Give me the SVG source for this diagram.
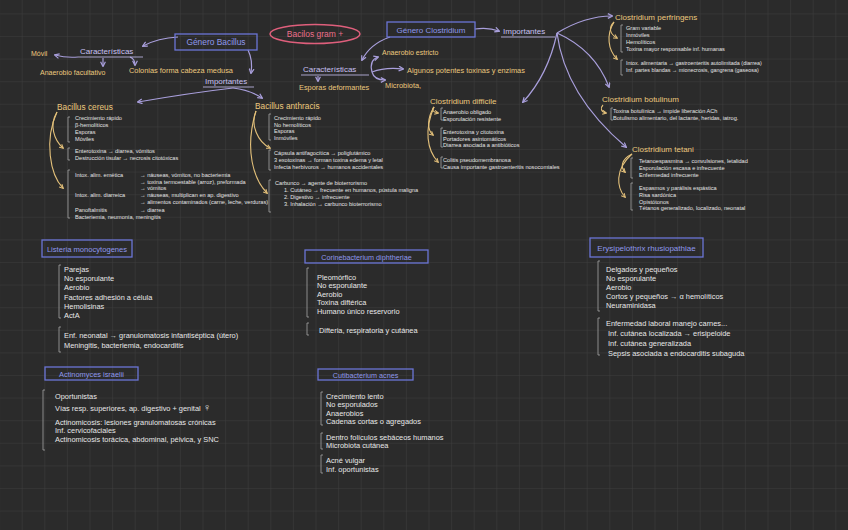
<svg xmlns="http://www.w3.org/2000/svg" width="848" height="530" viewBox="0 0 848 530">
<defs>
<pattern id="grid" x="-0.9" y="13.4" width="22.6" height="22.6" patternUnits="userSpaceOnUse">
<path d="M0 0H22.6M0 0V22.6" stroke="#3e3e3e" stroke-width="1" fill="none"/>
</pattern>
<marker id="ap" viewBox="0 0 10 10" refX="8" refY="5" markerWidth="5" markerHeight="5" orient="auto-start-reverse">
<path d="M1 1L9 5L1 9" fill="none" stroke="#a99fdc" stroke-width="2"/>
</marker>
<marker id="ay" viewBox="0 0 10 10" refX="8" refY="5" markerWidth="4.5" markerHeight="4.5" orient="auto">
<path d="M1 1L9 5L1 9" fill="none" stroke="#e3c07a" stroke-width="2"/>
</marker>
<style>
text{font-family:"Liberation Sans","DejaVu Sans",sans-serif}
.y{fill:#ecc97e;font-size:8px}
.yt{fill:#ecc97e;font-size:8.3px}
.p{fill:#c9c1f2;font-size:8px}
.s{fill:#e4e4e4;font-size:5.6px}
.w{fill:#e8e8e8;font-size:7.4px}
.bx{fill:none;stroke:#6b75d6;stroke-width:1.3}
.bt{fill:#8f98ec;font-size:7.6px;text-anchor:middle}
.br{fill:none;stroke:#a5a5a5;stroke-width:0.8}
.ul{stroke:#c9c1f2;stroke-width:0.8}
.cp{fill:none;stroke:#a99fdc;stroke-width:1.2;marker-end:url(#ap)}
.cy{fill:none;stroke:#e3c07a;stroke-width:1.1;marker-end:url(#ay)}
</style>
</defs>
<rect width="848" height="530" fill="#2b2b2b"/>
<rect width="848" height="530" fill="url(#grid)"/>

<g id="connectors">
<path class="cp" d="M178 37Q158 38 143 46"/>
<path class="cp" d="M248 50Q253 60 251 73"/>
<path class="cp" d="M78 57Q66 58 55 55"/>
<path class="cp" d="M103 58V66"/>
<path class="cp" d="M130 57Q135 59 135 65"/>
<path class="cp" d="M233 88Q190 93 138 102"/>
<path class="cp" d="M233 88Q250 90 262 98"/>
<path class="cp" d="M390 37Q370 44 362 60"/>
<path class="cp" d="M475 29Q488 27 499 31"/>
<path class="cp" d="M372 72Q369 60 378 57"/>
<path class="cp" d="M372 72Q385 67 403 69"/>
<path class="cp" d="M372 72Q374 80 385 80"/>
<path class="cp" d="M318 76V81"/>
<path class="cp" d="M557 33Q585 16 612 16"/>
<path class="cp" d="M557 33Q548 75 523 102"/>
<path class="cp" d="M557 33Q595 50 609 87"/>
<path class="cp" d="M557 33Q565 95 626 147"/>
<path class="cy" d="M57 112C49 125 54 140 63 148"/>
<path class="cy" d="M57 112C44 140 50 175 63 188"/>
<path class="cy" d="M256 111C250 125 258 142 270 148"/>
<path class="cy" d="M256 111C244 150 254 180 267 193"/>
<path class="cy" d="M434 107C431 110 433 112 438 113"/>
<path class="cy" d="M434 107C427 118 427 130 433 135"/>
<path class="cy" d="M434 107C424 130 427 150 438 162"/>
<path class="cy" d="M603 105C600 108 601 112 606 113"/>
<path class="cy" d="M632 154C620 160 621 168 625 172"/>
<path class="cy" d="M632 154C614 170 617 188 625 197"/>
<path class="cy" d="M614 22C608 28 610 34 617 38"/>
<path class="cy" d="M614 22C606 35 608 50 617 59"/>
</g>

<g id="bacilos-gram">
<ellipse cx="315" cy="34" rx="45" ry="9.5" fill="none" stroke="#df5f7c" stroke-width="1.5"/>
<text x="315" y="37" text-anchor="middle" style="fill:#ea6f8a;font-size:8.5px">Bacilos gram +</text>
</g>

<g id="genero-bacillus">
<rect class="bx" x="175" y="34" width="82" height="16"/>
<text class="bt" x="216" y="45" style="font-size:8.4px">Género Bacillus</text>
</g>
<g id="bacillus-caracteristicas">
<text class="p" x="80" y="54">Características</text>
<line class="ul" x1="78" y1="57" x2="143" y2="57"/>
<text class="y" x="31" y="56" style="font-size:7px">Móvil</text>
<text class="y" x="40" y="75" style="font-size:7px">Anaerobio facultativo</text>
<text class="y" x="129" y="73" style="font-size:7.4px">Colonias forma cabeza medusa</text>
</g>
<g id="bacillus-importantes">
<text class="p" x="205" y="84">Importantes</text>
<line class="ul" x1="203" y1="87" x2="254" y2="87"/>
</g>

<g id="genero-clostridium">
<rect class="bx" x="387" y="22" width="88" height="15"/>
<text class="bt" x="431" y="32.5" style="font-size:8px">Género Clostridium</text>
</g>
<g id="clostridium-importantes">
<text class="p" x="503" y="34">Importantes</text>
<line class="ul" x1="501" y1="37" x2="555" y2="37"/>
</g>
<g id="clostridium-caracteristicas">
<text class="p" x="303" y="72">Características</text>
<line class="ul" x1="301" y1="75" x2="369" y2="75"/>
<text class="y" x="382" y="55" style="font-size:7px">Anaerobio estricto</text>
<text class="y" x="407" y="73" style="font-size:7.4px">Algunos potentes toxinas y enzimas</text>
<text class="y" x="385" y="88" style="font-size:7.4px">Microbiota,</text>
<text class="y" x="299" y="90" style="font-size:7.4px">Esporas deformantes</text>
</g>

<g id="bacillus-cereus">
<text class="yt" x="57" y="110">Bacillus cereus</text>
<path class="br" d="M70 117H68V142H70M70 148H68V160H70M70 170H68V218H70"/>
<text class="s" x="75" y="120">Crecimiento rápido</text>
<text class="s" x="75" y="127">β-hemolíticos</text>
<text class="s" x="75" y="134">Esporas</text>
<text class="s" x="75" y="140.5">Móviles</text>
<text class="s" x="75" y="153">Enterotoxina → diarrea, vómitos</text>
<text class="s" x="75" y="160">Destrucción tisular → necrosis citotóxicas</text>
<text class="s" x="75" y="177">Intox. alim. emética</text>
<text class="s" x="140" y="177">→ náuseas, vómitos, no bacteriemia</text>
<text class="s" x="140" y="183.5">→ toxina termoestable (arroz), preformada</text>
<text class="s" x="140" y="190">→ vómitos</text>
<text class="s" x="75" y="197">Intox. alim. diarreica</text>
<text class="s" x="140" y="197">→ náuseas, multiplican en ap. digestivo</text>
<text class="s" x="140" y="203.5">→ alimentos contaminados (carne, leche, verduras)</text>
<text class="s" x="75" y="212">Panoftalmitis</text>
<text class="s" x="140" y="212">→ diarrea</text>
<text class="s" x="75" y="218.5">Bacteriemia, neumonía, meningitis</text>
</g>

<g id="bacillus-anthracis">
<text class="yt" x="255" y="109">Bacillus anthracis</text>
<path class="br" d="M271 114H269V140H271M271 150H269V170H271M271 180H269V212H271"/>
<text class="s" x="274" y="120">Crecimiento rápido</text>
<text class="s" x="274" y="126.5">No hemolíticos</text>
<text class="s" x="274" y="133">Esporas</text>
<text class="s" x="274" y="140">Inmóviles</text>
<text class="s" x="274" y="155">Cápsula antifagocítica → poliglutámico</text>
<text class="s" x="274" y="162">3 exotoxinas → forman toxina edema y letal</text>
<text class="s" x="274" y="169">Infecta herbívoros → humanos accidentales</text>
<text class="s" x="275" y="185">Carbunco → agente de bioterrorismo</text>
<text class="s" x="284" y="192">1. Cutáneo → frecuente en humanos, pústula maligna</text>
<text class="s" x="284" y="199">2. Digestivo → infrecuente</text>
<text class="s" x="284" y="205.5">3. Inhalación → carbunco bioterrorismo</text>
</g>

<g id="clostridium-perfringens">
<text class="yt" x="615" y="20" style="font-size:8px">Clostridium perfringens</text>
<path class="br" d="M623 25H621V52H623M623 60H621V75H623"/>
<text class="s" x="626" y="30">Gram variable</text>
<text class="s" x="626" y="37">Inmóviles</text>
<text class="s" x="626" y="44">Hemolíticos</text>
<text class="s" x="626" y="51">Toxina mayor responsable inf. humanas</text>
<text class="s" x="626" y="64.5" style="font-size:5.4px">Intox. alimentaria → gastroenteritis autolimitada (diarrea)</text>
<text class="s" x="626" y="71.5" style="font-size:5.4px">Inf. partes blandas → mionecrosis, gangrena (gaseosa)</text>
</g>

<g id="clostridium-difficile">
<text class="yt" x="430" y="104" style="font-size:8px">Clostridium difficile</text>
<path class="br" d="M443 108H441V120H443M443 128H441V147H443M443 157H441V168H443"/>
<text class="s" x="443" y="114">Anaerobio obligado</text>
<text class="s" x="443" y="120.5">Esporulación resistente</text>
<text class="s" x="443" y="134">Enterotoxina y citotoxina</text>
<text class="s" x="443" y="140.5">Portadores asintomáticos</text>
<text class="s" x="443" y="147">Diarrea asociada a antibióticos</text>
<text class="s" x="443" y="162">Colitis pseudomembranosa</text>
<text class="s" x="443" y="169">Causa importante gastroenteritis nosocomiales</text>
</g>

<g id="clostridium-botulinum">
<text class="yt" x="602" y="102" style="font-size:8px">Clostridium botulinum</text>
<path class="br" d="M613 108H611V120H613"/>
<text class="s" x="613" y="113">Toxina botulínica → impide liberación ACh</text>
<text class="s" x="613" y="120">Botulismo alimentario, del lactante, heridas, iatrog.</text>
</g>

<g id="clostridium-tetani">
<text class="yt" x="632" y="152" style="font-size:8px">Clostridium tetani</text>
<path class="br" d="M633 158H631V178H633M633 183H631V210H633"/>
<text class="s" x="639" y="163">Tetanoespasmina → convulsiones, letalidad</text>
<text class="s" x="639" y="170">Esporulación escasa e infrecuente</text>
<text class="s" x="639" y="177">Enfermedad infrecuente</text>
<text class="s" x="639" y="190">Espasmos y parálisis espástica</text>
<text class="s" x="639" y="197">Risa sardónica</text>
<text class="s" x="639" y="203.5">Opistótonos</text>
<text class="s" x="639" y="210">Tétanos generalizado, localizado, neonatal</text>
</g>

<g id="listeria">
<rect class="bx" x="42" y="240" width="90" height="17"/>
<text class="bt" x="87" y="251.5">Listeria monocytogenes</text>
<path class="br" d="M61 265H59V318H61M61 327H59V352H61"/>
<text class="w" x="64" y="272">Parejas</text>
<text class="w" x="64" y="281">No esporulante</text>
<text class="w" x="64" y="290">Aerobio</text>
<text class="w" x="64" y="300">Factores adhesión a célula</text>
<text class="w" x="64" y="309">Hemolisinas</text>
<text class="w" x="64" y="318">ActA</text>
<text class="w" x="64" y="338">Enf. neonatal → granulomatosis infantiséptica (útero)</text>
<text class="w" x="64" y="348">Meningitis, bacteriemia, endocarditis</text>
</g>

<g id="corynebacterium">
<rect class="bx" x="305" y="250" width="123" height="13"/>
<text class="bt" x="366.5" y="259.5" style="font-size:7.2px">Corinebacterium diphtheriae</text>
<path class="br" d="M309 268H307V317H309M309 323H307V335H309"/>
<text class="w" x="317" y="279.5">Pleomórfico</text>
<text class="w" x="317" y="288">No esporulante</text>
<text class="w" x="317" y="296.5">Aerobio</text>
<text class="w" x="317" y="305">Toxina diftérica</text>
<text class="w" x="317" y="313.5">Humano único reservorio</text>
<text class="w" x="319" y="332.5">Difteria, respiratoria y cutánea</text>
</g>

<g id="erysipelothrix">
<rect class="bx" x="590" y="238" width="113" height="19"/>
<text class="bt" x="646.5" y="250.5" style="font-size:8px">Erysipelothrix rhusiopathiae</text>
<path class="br" d="M600 261H598V311H600M600 318H598V355H600"/>
<text class="w" x="606" y="271.5">Delgados y pequeños</text>
<text class="w" x="606" y="280.5">No esporulante</text>
<text class="w" x="606" y="289.5">Aerobio</text>
<text class="w" x="606" y="298.5">Cortos y pequeños → α hemolíticos</text>
<text class="w" x="606" y="308">Neuraminidasa</text>
<text class="w" x="606" y="325.5">Enfermedad laboral manejo carnes...</text>
<text class="w" x="608" y="335.5">Inf. cutánea localizada → erisipeloide</text>
<text class="w" x="608" y="345.5">Inf. cutánea generalizada</text>
<text class="w" x="608" y="355.5">Sepsis asociada a endocarditis subaguda</text>
</g>

<g id="actinomyces">
<rect class="bx" x="45" y="367" width="93" height="13"/>
<text class="bt" x="91.5" y="376.5" style="font-size:7.4px">Actinomyces israelii</text>
<path class="br" d="M45 390H43V450H45"/>
<text class="w" x="55" y="398.5">Oportunistas</text>
<text class="w" x="55" y="410.5">Vías resp. superiores, ap. digestivo + genital <tspan style="font-size:11px">♀</tspan></text>
<text class="w" x="55" y="424.5">Actinomicosis: lesiones granulomatosas crónicas</text>
<text class="w" x="55" y="432.5">Inf. cervicofaciales</text>
<text class="w" x="55" y="441.5">Actinomicosis torácica, abdominal, pélvica, y SNC</text>
</g>

<g id="cutibacterium">
<rect class="bx" x="318" y="369" width="95" height="11"/>
<text class="bt" x="365.5" y="377.5" style="font-size:7.2px">Cutibacterium acnes</text>
<path class="br" d="M323 392H321V425H323M323 433H321V449H323M323 455H321V473H323"/>
<text class="w" x="326" y="398.5">Crecimiento lento</text>
<text class="w" x="326" y="406.5">No esporulados</text>
<text class="w" x="326" y="415.5">Anaerobios</text>
<text class="w" x="326" y="424">Cadenas cortas o agregados</text>
<text class="w" x="326" y="439.5">Dentro folículos sebáceos humanos</text>
<text class="w" x="326" y="448">Microbiota cutánea</text>
<text class="w" x="326" y="462.5">Acné vulgar</text>
<text class="w" x="326" y="471.5">Inf. oportunistas</text>
</g>
</svg>
